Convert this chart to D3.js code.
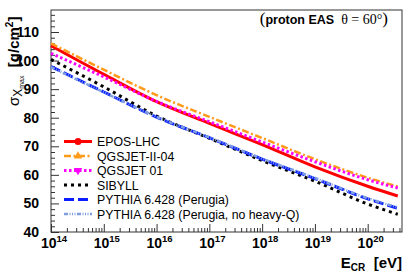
<!DOCTYPE html>
<html><head><meta charset="utf-8">
<script src="https://cdn.jsdelivr.net/npm/d3@7"></script>
<style>
body{margin:0;background:#fff;}
svg{display:block;font-family:"Liberation Sans",Arial,Helvetica,sans-serif;}
</style></head>
<body><svg id="c" width="414" height="274"></svg>
<script>
// ---- data ----
const logE = [14, 15, 16, 17, 18, 19, 20, 20.57];
const eposLHC   = [105.2, 95.2, 85.6, 78.0, 70.6, 62.8, 56.0, 52.6];
const qgsjetII  = [106.0, 96.8, 87.9, 80.3, 72.9, 65.5, 59.0, 55.9];
const qgsjet01  = [102.5, 94.3, 85.7, 78.6, 71.5, 64.6, 58.3, 55.4];
const sibyll    = [100.4, 90.8, 80.6, 72.8, 65.0, 57.8, 49.8, 46.2];
const pythia    = [97.9, 89.0, 80.2, 73.0, 65.5, 58.7, 51.6, 48.3];
const pythiaNoQ = [97.7, 88.9, 80.3, 73.1, 65.7, 58.9, 51.8, 48.6];
const seriesNames = ["EPOS-LHC","QGSJET-II-04","QGSJET 01","SIBYLL","PYTHIA 6.428 (Perugia)","PYTHIA 6.428 (Perugia, no heavy-Q)"];
const yTicks = [40,50,60,70,80,90,100,110];
const xDecades = [14,15,16,17,18,19,20];

const svg = d3.select("#c");
const L=51, T=10, R=402, B=232;
const x = d3.scaleLog().domain([1e14, Math.pow(10,20.65)]).range([L,R]);
const y = d3.scaleLinear().domain([40,117.7]).range([B,T]);

// frame
svg.append("rect").attr("x",L).attr("y",T).attr("width",R-L).attr("height",B-T)
  .attr("fill","none").attr("stroke","#333").attr("stroke-width",1);

// y axis major
const yAx = svg.append("g").attr("transform",`translate(${L},0)`)
  .call(d3.axisLeft(y).tickValues(yTicks).tickSize(-8).tickPadding(12).tickFormat(d3.format("d")));
yAx.select(".domain").remove();
yAx.selectAll("text").attr("font-size",14).attr("font-weight","bold").attr("fill","#000")
  .attr("font-family","Liberation Sans, Arial, sans-serif");
yAx.selectAll("line").attr("stroke","#333");
const yMinor = d3.range(40,118,2).filter(v=>v%10!==0);
const yAxm = svg.append("g").attr("transform",`translate(${L},0)`)
  .call(d3.axisLeft(y).tickValues(yMinor).tickSize(-4).tickFormat(""));
yAxm.select(".domain").remove();
yAxm.selectAll("line").attr("stroke","#333");

// x axis
const xMaj = xDecades.map(d=>Math.pow(10,d));
const xAx = svg.append("g").attr("transform",`translate(0,${B})`)
  .call(d3.axisBottom(x).tickValues(xMaj).tickSize(-8).tickFormat(""));
xAx.select(".domain").remove();
xAx.selectAll("line").attr("stroke","#333");
const xMinor=[];
xDecades.forEach(d=>{for(let k=2;k<=9;k++){const v=k*Math.pow(10,d); if(v<=x.domain()[1]) xMinor.push(v);}});
const xAxm = svg.append("g").attr("transform",`translate(0,${B})`)
  .call(d3.axisBottom(x).tickValues(xMinor).tickSize(-4).tickFormat(""));
xAxm.select(".domain").remove();
xAxm.selectAll("line").attr("stroke","#333");
xDecades.forEach(d=>{
  const t = svg.append("text").attr("x",x(Math.pow(10,d))+3).attr("y",B+16)
    .attr("text-anchor","middle").attr("font-weight","bold").attr("font-size",14);
  t.append("tspan").text("10");
  t.append("tspan").attr("dy",-6).attr("font-size",9.5).text(String(d));
});

// axis titles
const xt = svg.append("text").attr("x",402).attr("y",268).attr("text-anchor","end")
  .attr("font-weight","bold").attr("font-size",15);
xt.append("tspan").text("E");
xt.append("tspan").attr("dy",3).attr("font-size",10).text("CR");
xt.append("tspan").attr("dy",-3).text("\u00a0\u00a0[eV]");

const yt = svg.append("text").attr("transform","translate(19,106) rotate(-90)")
  .attr("text-anchor","start").attr("font-size",15);
yt.append("tspan").text("\u03c3");
yt.append("tspan").attr("dy",3).attr("font-size",12).text("X");
yt.append("tspan").attr("dy",2).attr("font-size",7).text("max");
yt.append("tspan").attr("dy",-5).attr("font-weight","bold").text("\u00a0\u00a0[g/cm");
yt.append("tspan").attr("dy",-6).attr("font-weight","bold").attr("font-size",10).text("2");
yt.append("tspan").attr("dy",6).attr("font-weight","bold").text("]");

// top-right label
const tl = svg.append("text").attr("x",388).attr("y",24).attr("text-anchor","end");
tl.append("tspan").attr("font-family","Liberation Serif, serif").attr("font-size",17).text("(");
tl.append("tspan").attr("font-weight","bold").attr("font-size",12.5).text("proton EAS\u00a0\u00a0");
tl.append("tspan").attr("font-family","Liberation Serif, serif").attr("font-size",14).text("\u03b8 = 60\u00b0");
tl.append("tspan").attr("font-family","Liberation Serif, serif").attr("font-size",17).text(")");

// series
const styles = [
  {vals:eposLHC,  color:"#ff0000", w:3,   dash:null, marker:"circle"},
  {vals:qgsjetII, color:"#ff9a1a", w:2.5, dash:"7,2.5,2,2.5", marker:"tri-up"},
  {vals:qgsjet01, color:"#ff00ff", w:3,   dash:"2.5,2.5", marker:"tri-down"},
  {vals:sibyll,   color:"#000000", w:3,   dash:"3,4", marker:null},
  {vals:pythia,   color:"#0a1eff", w:3,   dash:"10,4", marker:null},
  {vals:pythiaNoQ,color:"#7f9ee0", w:2.5, dash:"4,1.5,1,1.5,1,1.5,1,1.5", marker:null},
];
const line = d3.line().x((d,i)=>x(Math.pow(10,logE[i]))).y(d=>y(d)).curve(d3.curveMonotoneX);
const plot = svg.append("g");
styles.forEach(s=>{
  plot.append("path").datum(s.vals).attr("d",line).attr("fill","none")
    .attr("stroke",s.color).attr("stroke-width",s.w)
    .attr("stroke-dasharray",s.dash);
});

// legend
const lg = svg.append("g");
const ly0=141.5, ldy=14.5;
styles.forEach((s,i)=>{
  const yy=ly0+i*ldy;
  lg.append("line").attr("x1",64).attr("x2",92).attr("y1",yy).attr("y2",yy)
    .attr("stroke",s.color).attr("stroke-width",s.w).attr("stroke-dasharray",s.dash);
  if(s.marker==="circle") lg.append("circle").attr("cx",78).attr("cy",yy).attr("r",3.5).attr("fill",s.color);
  if(s.marker==="tri-up") lg.append("path").attr("d",d3.symbol(d3.symbolTriangle,30)()).attr("transform",`translate(78,${yy})`).attr("fill",s.color);
  if(s.marker==="tri-down") lg.append("path").attr("d",d3.symbol(d3.symbolTriangle,30)()).attr("transform",`translate(78,${yy}) rotate(180)`).attr("fill",s.color);
  lg.append("text").attr("x",97).attr("y",yy+4.5).attr("font-size",12.3).text(seriesNames[i]);
});
</script></body></html>
